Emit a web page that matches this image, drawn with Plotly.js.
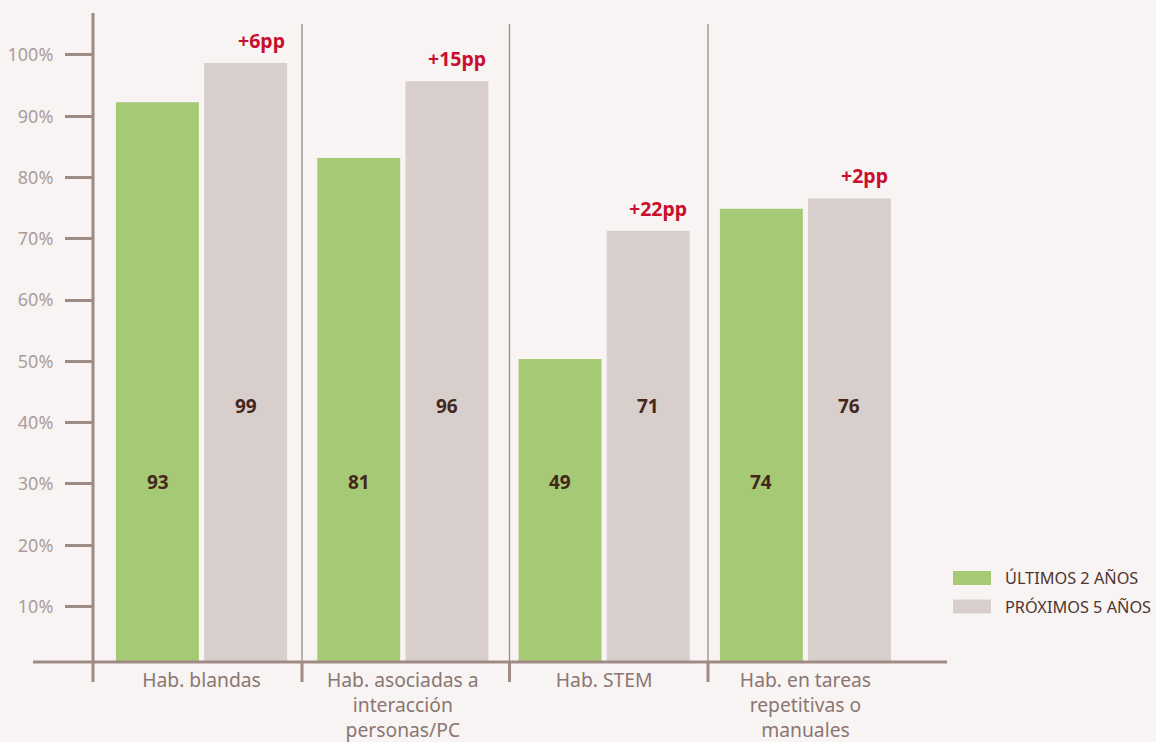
<!DOCTYPE html>
<html><head><meta charset="utf-8">
<script src="https://cdn.plot.ly/plotly-3.0.1.min.js"></script>
<style>html,body{margin:0;padding:0;background:#f8f4f3;}#chart{width:1156px;height:742px;}</style>
</head><body><div id="chart"></div>
<script>
const categories = ["Hab. blandas", "Hab. asociadas a<br>interacción<br>personas/PC", "Hab. STEM", "Hab. en tareas<br>repetitivas o<br>manuales"];
const seriesNames = ["ÚLTIMOS 2 AÑOS", "PRÓXIMOS 5 AÑOS"];
const barUltimos = [92.3, 83.2, 50.4, 74.9];
const barProximos = [98.7, 95.7, 71.3, 76.6];
const labelUltimos = ["93", "81", "49", "74"];
const labelProximos = ["99", "96", "71", "76"];
const deltas = ["+6pp", "+15pp", "+22pp", "+2pp"];
const yTicks = [10, 20, 30, 40, 50, 60, 70, 80, 90, 100];

const L = 93, R = 209, T = 13, B = 80, W = 1156, H = 742;
const PW = W - L - R, PH = H - T - B;
const px = x => (x - L) / PW;
const py = y => (H - B - y) / PH;

const green = "#a5c975", grey = "#d8cfcd", axisC = "#a08a85";
const FONT = "Noto Sans";

const traces = [
  {type: "bar", x: categories, y: barUltimos, name: seriesNames[0], marker: {color: green},
   width: 0.412, offset: -0.425, hoverinfo: "skip"},
  {type: "bar", x: categories, y: barProximos, name: seriesNames[1], marker: {color: grey},
   width: 0.412, offset: 0.013, hoverinfo: "skip"}
];

const shapes = [];
const annotations = [];
// axes lines
shapes.push({type: "line", xref: "paper", yref: "paper", x0: px(33), x1: px(947), y0: py(662), y1: py(662), line: {color: axisC, width: 3}});
shapes.push({type: "line", xref: "paper", yref: "paper", x0: px(93), x1: px(93), y0: py(13), y1: py(682), line: {color: axisC, width: 3}});
[302, 509.5, 708].forEach(x => {
  shapes.push({type: "line", xref: "paper", yref: "paper", x0: px(x), x1: px(x), y0: py(662), y1: py(682), line: {color: axisC, width: 3}});
  shapes.push({type: "line", xref: "paper", yref: "paper", x0: px(x), x1: px(x), y0: py(24), y1: py(662), line: {color: axisC, width: 1.3}});
});

categories.forEach((c, i) => {
  annotations.push({x: c, xref: "x", yref: "paper", y: py(482), yanchor: "middle", text: "<b>" + labelUltimos[i] + "</b>", showarrow: false,
    xshift: -44, font: {family: FONT, size: 19, color: "#45261c"}});
  annotations.push({x: c, xref: "x", yref: "paper", y: py(406), yanchor: "middle", text: "<b>" + labelProximos[i] + "</b>", showarrow: false,
    xshift: 44, font: {family: FONT, size: 19, color: "#45261c"}});
  annotations.push({x: c, xref: "x", yref: "y", y: barProximos[i], text: "<b>" + deltas[i] + "</b>", showarrow: false,
    xanchor: "right", yanchor: "bottom", xshift: 84, yshift: 8, borderpad: 0,
    font: {family: FONT, size: 19.5, color: "#c8102e"}});
});

// custom legend
[[578, green], [606.5, grey]].forEach((d, i) => {
  shapes.push({type: "rect", xref: "paper", yref: "paper", x0: px(953), x1: px(991), y0: py(d[0] - 7), y1: py(d[0] + 7), line: {width: 0}, fillcolor: d[1]});
  annotations.push({xref: "paper", yref: "paper", x: px(1003), y: py(d[0]), xanchor: "left", yanchor: "middle", showarrow: false,
    text: seriesNames[i], font: {family: FONT, size: 16.3, color: "#4f3530"}});
});

const layout = {
  width: W, height: H,
  margin: {l: L, r: R, t: T, b: B, pad: 0},
  paper_bgcolor: "#f8f4f3", plot_bgcolor: "#f8f4f3",
  showlegend: false,
  barmode: "overlay",
  xaxis: {type: "category", range: [-0.539, 3.703], showgrid: false, zeroline: false, showline: false,
    ticks: "", tickfont: {family: FONT, size: 19.3, color: "#8b7672"}, ticklabelstandoff: 5, fixedrange: true},
  yaxis: {range: [0.95, 106.85], tickvals: yTicks, ticktext: yTicks.map(v => v + "%"), showgrid: false, zeroline: false,
    showline: false, ticks: "outside", ticklen: 27, tickwidth: 3, tickcolor: axisC, ticklabelstandoff: 8,
    tickfont: {family: FONT, size: 18, color: "#ab9d9a"}, fixedrange: true},
  shapes: shapes, annotations: annotations
};
Plotly.newPlot("chart", traces, layout, {displayModeBar: false, staticPlot: true});
</script></body></html>
